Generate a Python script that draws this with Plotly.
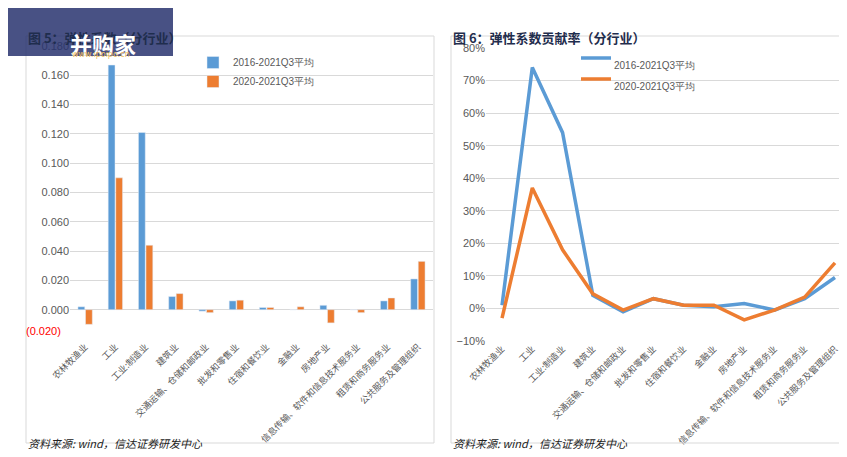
import plotly.graph_objects as go

industries = ["农林牧渔业", "工业", "工业:制造业", "建筑业", "交通运输、仓储和邮政业", "批发和零售业",
              "住宿和餐饮业", "金融业", "房地产业", "信息传输、软件和信息技术服务业", "租赁和商务服务业",
              "公共服务及管理组织"]
elastic_1621 = [0.002, 0.167, 0.121, 0.009, -0.001, 0.006, 0.0015, 0.0, 0.003, 0.0, 0.006, 0.021]
elastic_2021 = [-0.010, 0.090, 0.044, 0.011, -0.002, 0.0065, 0.0015, 0.002, -0.009, -0.002, 0.008, 0.033]
contrib_1621 = [0.01, 0.74, 0.54, 0.04, -0.01, 0.03, 0.01, 0.005, 0.015, -0.005, 0.03, 0.095]
contrib_2021 = [-0.03, 0.37, 0.18, 0.045, -0.005, 0.03, 0.01, 0.01, -0.035, -0.005, 0.035, 0.14]

W, H = 847, 457
BLUE, ORANGE = "#5b9bd5", "#ed7d31"
font = "Noto Sans CJK SC"

def px(x):
    return x / W

def py(y):
    return 1 - y / H

fig = go.Figure()
fig.add_bar(x=industries, y=elastic_1621, name="2016-2021Q3平均", marker_color=BLUE, xaxis="x", yaxis="y")
fig.add_bar(x=industries, y=elastic_2021, name="2020-2021Q3平均", marker_color=ORANGE, xaxis="x", yaxis="y")
fig.add_scatter(x=industries, y=contrib_1621, mode="lines", line=dict(color=BLUE, width=3.5),
                showlegend=False, xaxis="x2", yaxis="y2")
fig.add_scatter(x=industries, y=contrib_2021, mode="lines", line=dict(color=ORANGE, width=3.5),
                showlegend=False, xaxis="x2", yaxis="y2")

tickfont = dict(size=11, color="#595959", family="Liberation Sans")
catfont = dict(size=9, color="#595959", family=font)
lv = [0.02 * i for i in range(0, 10)]
fig.update_layout(
    width=W, height=H, margin=dict(l=0, r=0, t=0, b=0),
    plot_bgcolor="white", paper_bgcolor="white",
    barmode="group", bargap=0.5, bargroupgap=0.1,
    legend=dict(x=px(185), y=py(40), xanchor="left", yanchor="top",
                font=dict(size=10, color="#595959", family="Liberation Sans"),
                bgcolor="rgba(0,0,0,0)", tracegroupgap=2),
    xaxis=dict(domain=[px(62), px(425)], tickangle=-45, tickfont=catfont, showgrid=False,
               anchor="y", showline=False, ticks="", automargin=False),
    yaxis=dict(domain=[py(331), py(38)], range=[-0.02, 0.18], tickvals=lv, ticktext=[f"{v:.3f}" for v in lv],
               anchor="x", tickfont=tickfont, gridcolor="#d9d9d9", zeroline=True, zerolinecolor="#d9d9d9",
               zerolinewidth=1, automargin=False),
    xaxis2=dict(domain=[px(478), px(840)], range=[-0.53, 11.43], tickangle=-45, tickfont=catfont,
                showgrid=False, anchor="y2", showline=False, ticks="", automargin=False),
    yaxis2=dict(domain=[py(333), py(40)], range=[-0.1, 0.8], dtick=0.1, tickformat=".0%", anchor="x2",
                tickfont=tickfont, gridcolor="#d9d9d9", zeroline=True, zerolinecolor="#d9d9d9",
                zerolinewidth=1, automargin=False),
)
# red negative tick on left chart
fig.add_annotation(text="(0.020)", x=px(55), y=py(331), xref="paper", yref="paper", xanchor="right",
                   showarrow=False, font=dict(size=11, color="#ff0000", family="Liberation Sans"))
# right legend drawn as lines
for i, (name, c) in enumerate([("2016-2021Q3平均", BLUE), ("2020-2021Q3平均", ORANGE)]):
    yy = py(50 + i * 21)
    fig.add_shape(type="line", xref="paper", yref="paper", x0=px(573), x1=px(603), y0=yy, y1=yy,
                  line=dict(color=c, width=3.5))
    fig.add_annotation(text=name, x=px(604), y=yy, xref="paper", yref="paper", xanchor="left", showarrow=False,
                       font=dict(size=10, color="#595959", family="Liberation Sans"))

# frames
for x0, x1 in [(18, 426), (443, 843)]:
    fig.add_shape(type="rect", xref="paper", yref="paper", x0=px(x0), x1=px(x1), y0=py(435), y1=py(28),
                  line=dict(color="#d9d9d9", width=1))

fig.add_annotation(text="<b>图 5：弹性系数（分行业）</b>", x=px(18), y=py(18), xref="paper", yref="paper",
                   xanchor="left", showarrow=False, font=dict(size=13, color="#1f2d4d", family=font))
fig.add_annotation(text="<b>图 6：弹性系数贡献率（分行业）</b>", x=px(443), y=py(18), xref="paper", yref="paper",
                   xanchor="left", showarrow=False, font=dict(size=13, color="#1f2d4d", family=font))
for x0 in [18, 443]:
    fig.add_annotation(text="<i>资料来源: wind，信达证券研发中心</i>", x=px(x0), y=py(445), xref="paper",
                       yref="paper", xanchor="left", showarrow=False,
                       font=dict(size=11, color="#222222", family=font))

# watermark
fig.add_shape(type="rect", xref="paper", yref="paper", x0=0, x1=px(165), y0=py(48), y1=1,
              fillcolor="rgba(40,50,110,0.85)", line=dict(width=0))
fig.add_annotation(text="<b>并购家</b>", x=px(60), y=py(17), xref="paper", yref="paper", xanchor="left",
                   showarrow=False, font=dict(size=22, color="white", family=font))
fig.add_annotation(text="www.ipoipo.cn", x=px(62), y=py(40), xref="paper", yref="paper", xanchor="left",
                   showarrow=False, font=dict(size=8, color="#f0c060", family="DejaVu Sans"))

fig.write_html("out.html")
